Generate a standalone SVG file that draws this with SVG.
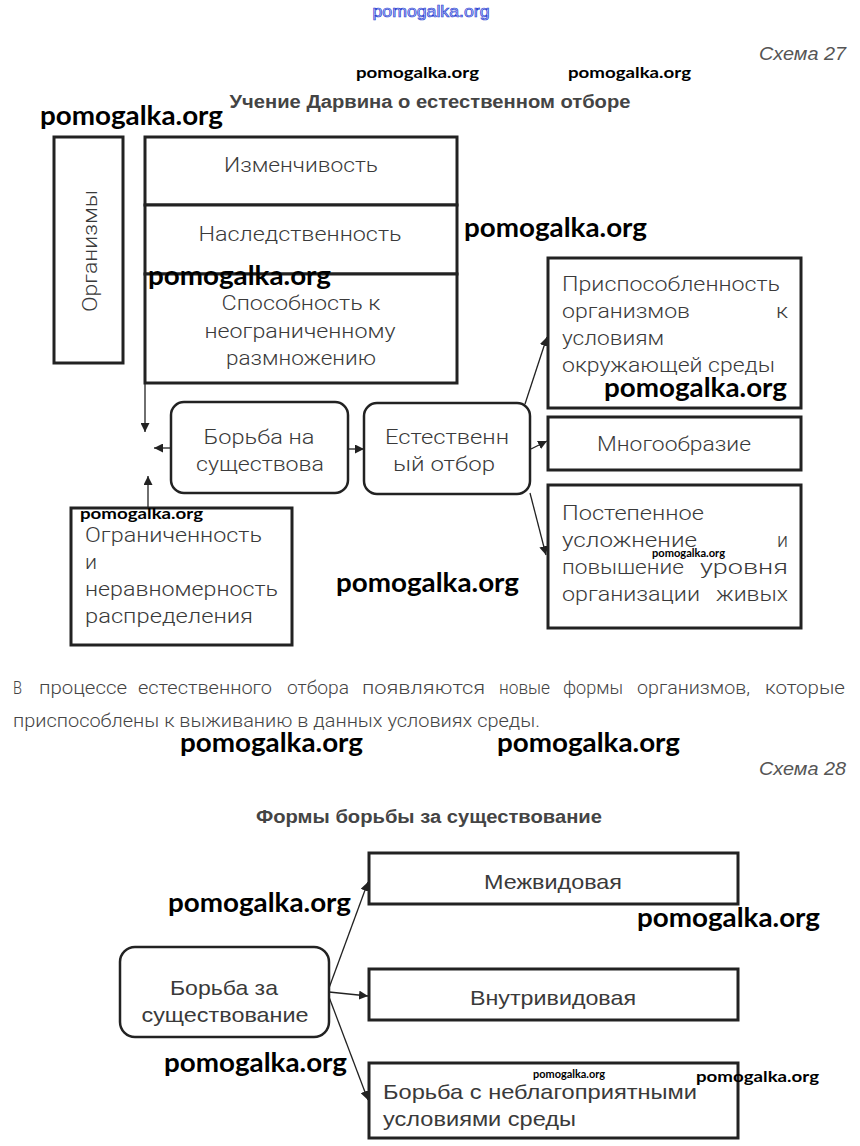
<svg xmlns="http://www.w3.org/2000/svg" width="860" height="1146" viewBox="0 0 860 1146">
<style>
.bg{fill:#fff}
.box{fill:#fff;stroke:#222;stroke-width:3}
.rbox{fill:#fff;stroke:#222;stroke-width:2.5}
.t{font-family:Roboto,"Liberation Sans",sans-serif;font-weight:300;font-size:21px;fill:#3a3a3a}
.n{font-family:"Liberation Sans",Arial,sans-serif;font-size:21px;fill:#3a3a3a}
.p{font-family:Roboto,"Liberation Sans",sans-serif;font-weight:300;font-size:19px;fill:#444}
.h{font-family:"Liberation Sans",Arial,sans-serif;font-weight:bold;font-size:18px;fill:#444}
.s{font-family:"Liberation Sans",Arial,sans-serif;font-style:italic;font-size:19px;fill:#555}
.w{font-family:Lato,"Open Sans",sans-serif;font-weight:bold;fill:#000}
.c{stroke:#222;stroke-width:1.3;fill:none;marker-end:url(#ah)}
.m{text-anchor:middle}
</style>
<defs>
<marker id="ah" viewBox="0 0 10 10" refX="10" refY="5" markerWidth="9" markerHeight="9" markerUnits="userSpaceOnUse" orient="auto">
<path d="M0,0 L10,5 L0,10 z" fill="#222"/>
</marker>
</defs>
<rect class="bg" x="0" y="0" width="860" height="1146"/>

<text x="431" y="17" class="m" font-family="'Liberation Sans',sans-serif" font-size="16" fill="#c8d0ff" stroke="#2a3fd0" stroke-width="0.7" textLength="117" lengthAdjust="spacingAndGlyphs">pomogalka.org</text>

<text x="846" y="60" class="s" text-anchor="end" textLength="87" lengthAdjust="spacingAndGlyphs">Схема 27</text>
<text x="430" y="108" class="h m" textLength="401" lengthAdjust="spacingAndGlyphs">Учение Дарвина о естественном отборе</text>

<g id="connectors">
<line class="c" x1="145" y1="384" x2="145" y2="432"/>
<line class="c" x1="171" y1="448" x2="154" y2="448"/>
<line class="c" x1="148" y1="507" x2="148" y2="476"/>
<line class="c" x1="348" y1="449" x2="364" y2="449"/>
<line class="c" x1="525" y1="404" x2="547" y2="337"/>
<line class="c" x1="531" y1="449" x2="547" y2="441"/>
<line class="c" x1="530" y1="493" x2="546" y2="555"/>
<line class="c" x1="329" y1="988" x2="368" y2="882"/>
<line class="c" x1="329" y1="992" x2="368" y2="996"/>
<line class="c" x1="329" y1="997" x2="368" y2="1100"/>
</g>

<g id="organizmy">
<rect class="box" x="54" y="137" width="69" height="226"/>
<text class="t m" transform="translate(97,251) rotate(-90)" textLength="122" lengthAdjust="spacingAndGlyphs">Организмы</text>
</g>

<g id="izmenchivost">
<rect class="box" x="145" y="137" width="312" height="68"/>
<text class="t m" x="301" y="172" textLength="154" lengthAdjust="spacingAndGlyphs">Изменчивость</text>
</g>
<g id="nasledstvennost">
<rect class="box" x="145" y="205" width="312" height="69"/>
<text class="t m" x="300" y="241" textLength="203" lengthAdjust="spacingAndGlyphs">Наследственность</text>
</g>
<g id="sposobnost">
<rect class="box" x="145" y="274" width="312" height="109"/>
<text class="t m" x="301" y="310" textLength="159" lengthAdjust="spacingAndGlyphs">Способность к</text>
<text class="t m" x="300" y="338" textLength="191" lengthAdjust="spacingAndGlyphs">неограниченному</text>
<text class="t m" x="301" y="365" textLength="150" lengthAdjust="spacingAndGlyphs">размножению</text>
</g>

<g id="borba-na">
<rect class="rbox" x="171" y="402" width="177" height="91" rx="13"/>
<text class="t m" x="259" y="444" textLength="111" lengthAdjust="spacingAndGlyphs">Борьба на</text>
<text class="t m" x="260" y="471" textLength="128" lengthAdjust="spacingAndGlyphs">существова</text>
</g>

<g id="estestvennyj">
<rect class="rbox" x="364" y="403" width="166" height="91" rx="13"/>
<text class="t m" x="447" y="444" textLength="124" lengthAdjust="spacingAndGlyphs">Естественн</text>
<text class="t m" x="444" y="471" textLength="102" lengthAdjust="spacingAndGlyphs">ый отбор</text>
</g>

<g id="prisposoblennost">
<rect class="box" x="548" y="258" width="253" height="150"/>
<text class="t" x="562" y="291" textLength="218" lengthAdjust="spacingAndGlyphs">Приспособленность</text>
<text class="t" x="562" y="318" textLength="128" lengthAdjust="spacingAndGlyphs">организмов</text>
<text class="t" x="776" y="318" textLength="12" lengthAdjust="spacingAndGlyphs">к</text>
<text class="t" x="562" y="345" textLength="102" lengthAdjust="spacingAndGlyphs">условиям</text>
<text class="t" x="562" y="372" textLength="213" lengthAdjust="spacingAndGlyphs">окружающей среды</text>
</g>

<g id="mnogoobrazie">
<rect class="box" x="548" y="417" width="253" height="53"/>
<text class="t m" x="674" y="451" textLength="154" lengthAdjust="spacingAndGlyphs">Многообразие</text>
</g>

<g id="postepennoe">
<rect class="box" x="548" y="485" width="253" height="143"/>
<text class="t" x="562" y="520" textLength="142" lengthAdjust="spacingAndGlyphs">Постепенное</text>
<text class="t" x="562" y="547" textLength="135" lengthAdjust="spacingAndGlyphs">усложнение</text>
<text class="t" x="777" y="547" textLength="11" lengthAdjust="spacingAndGlyphs">и</text>
<text class="t" x="562" y="574" textLength="122" lengthAdjust="spacingAndGlyphs">повышение</text>
<text class="t" x="700" y="574" textLength="88" lengthAdjust="spacingAndGlyphs">уровня</text>
<text class="t" x="562" y="601" textLength="138" lengthAdjust="spacingAndGlyphs">организации</text>
<text class="t" x="716" y="601" textLength="72" lengthAdjust="spacingAndGlyphs">живых</text>
</g>

<g id="ogranichennost">
<rect class="box" x="71" y="508" width="221" height="137"/>
<text class="t" x="85" y="542" textLength="177" lengthAdjust="spacingAndGlyphs">Ограниченность</text>
<text class="t" x="85" y="569" textLength="12" lengthAdjust="spacingAndGlyphs">и</text>
<text class="t" x="85" y="596" textLength="193" lengthAdjust="spacingAndGlyphs">неравномерность</text>
<text class="t" x="85" y="623" textLength="168" lengthAdjust="spacingAndGlyphs">распределения</text>
</g>

<text class="p" y="694"><tspan x="13" textLength="9" lengthAdjust="spacingAndGlyphs">В</tspan> <tspan x="39" textLength="88" lengthAdjust="spacingAndGlyphs">процессе</tspan> <tspan x="138" textLength="134" lengthAdjust="spacingAndGlyphs">естественного</tspan> <tspan x="287" textLength="62" lengthAdjust="spacingAndGlyphs">отбора</tspan> <tspan x="362" textLength="123" lengthAdjust="spacingAndGlyphs">появляются</tspan> <tspan x="499" textLength="51" lengthAdjust="spacingAndGlyphs">новые</tspan> <tspan x="563" textLength="60" lengthAdjust="spacingAndGlyphs">формы</tspan> <tspan x="637" textLength="113" lengthAdjust="spacingAndGlyphs">организмов,</tspan> <tspan x="765" textLength="80" lengthAdjust="spacingAndGlyphs">которые</tspan></text>
<text class="p" x="13" y="727" textLength="527" lengthAdjust="spacingAndGlyphs">приспособлены к выживанию в данных условиях среды.</text>

<text x="846" y="775" class="s" text-anchor="end" textLength="87" lengthAdjust="spacingAndGlyphs">Схема 28</text>
<text x="429" y="823" class="h m" textLength="346" lengthAdjust="spacingAndGlyphs">Формы борьбы за существование</text>

<g id="borba-za">
<rect class="rbox" x="120" y="947" width="209" height="90" rx="15"/>
<text class="n m" x="224" y="995" textLength="108" lengthAdjust="spacingAndGlyphs">Борьба за</text>
<text class="n m" x="225" y="1022" textLength="167" lengthAdjust="spacingAndGlyphs">существование</text>
</g>
<g id="mezhvidovaya">
<rect class="box" x="369" y="853" width="369" height="51"/>
<text class="n m" x="553" y="889" textLength="138" lengthAdjust="spacingAndGlyphs">Межвидовая</text>
</g>
<g id="vnutrividovaya">
<rect class="box" x="369" y="969" width="369" height="51"/>
<text class="n m" x="553" y="1005" textLength="166" lengthAdjust="spacingAndGlyphs">Внутривидовая</text>
</g>
<g id="neblagopriyatnye">
<rect class="box" x="369" y="1063" width="369" height="75"/>
<text class="n" x="383" y="1099" textLength="314" lengthAdjust="spacingAndGlyphs">Борьба с неблагоприятными</text>
<text class="n" x="383" y="1126" textLength="193" lengthAdjust="spacingAndGlyphs">условиями среды</text>
</g>

<g id="watermarks">
<text class="w" x="356" y="78" font-size="16" textLength="123" lengthAdjust="spacingAndGlyphs">pomogalka.org</text>
<text class="w" x="568" y="78" font-size="16" textLength="123" lengthAdjust="spacingAndGlyphs">pomogalka.org</text>
<text class="w" x="40" y="125" font-size="26" textLength="183" lengthAdjust="spacingAndGlyphs">pomogalka.org</text>
<text class="w" x="464" y="237" font-size="26" textLength="183" lengthAdjust="spacingAndGlyphs">pomogalka.org</text>
<text class="w" x="148" y="285" font-size="26" textLength="183" lengthAdjust="spacingAndGlyphs">pomogalka.org</text>
<text class="w" x="604" y="397" font-size="26" textLength="183" lengthAdjust="spacingAndGlyphs">pomogalka.org</text>
<text class="w" x="80" y="519" font-size="16" textLength="123" lengthAdjust="spacingAndGlyphs">pomogalka.org</text>
<text class="w" x="652" y="557" font-size="11" textLength="73" lengthAdjust="spacingAndGlyphs">pomogalka.org</text>
<text class="w" x="336" y="592" font-size="26" textLength="183" lengthAdjust="spacingAndGlyphs">pomogalka.org</text>
<text class="w" x="180" y="752" font-size="26" textLength="183" lengthAdjust="spacingAndGlyphs">pomogalka.org</text>
<text class="w" x="497" y="752" font-size="26" textLength="183" lengthAdjust="spacingAndGlyphs">pomogalka.org</text>
<text class="w" x="168" y="912" font-size="26" textLength="183" lengthAdjust="spacingAndGlyphs">pomogalka.org</text>
<text class="w" x="637" y="927" font-size="26" textLength="183" lengthAdjust="spacingAndGlyphs">pomogalka.org</text>
<text class="w" x="164" y="1072" font-size="26" textLength="183" lengthAdjust="spacingAndGlyphs">pomogalka.org</text>
<text class="w" x="533" y="1078" font-size="11" textLength="72" lengthAdjust="spacingAndGlyphs">pomogalka.org</text>
<text class="w" x="696" y="1082" font-size="16" textLength="123" lengthAdjust="spacingAndGlyphs">pomogalka.org</text>
</g>
</svg>
